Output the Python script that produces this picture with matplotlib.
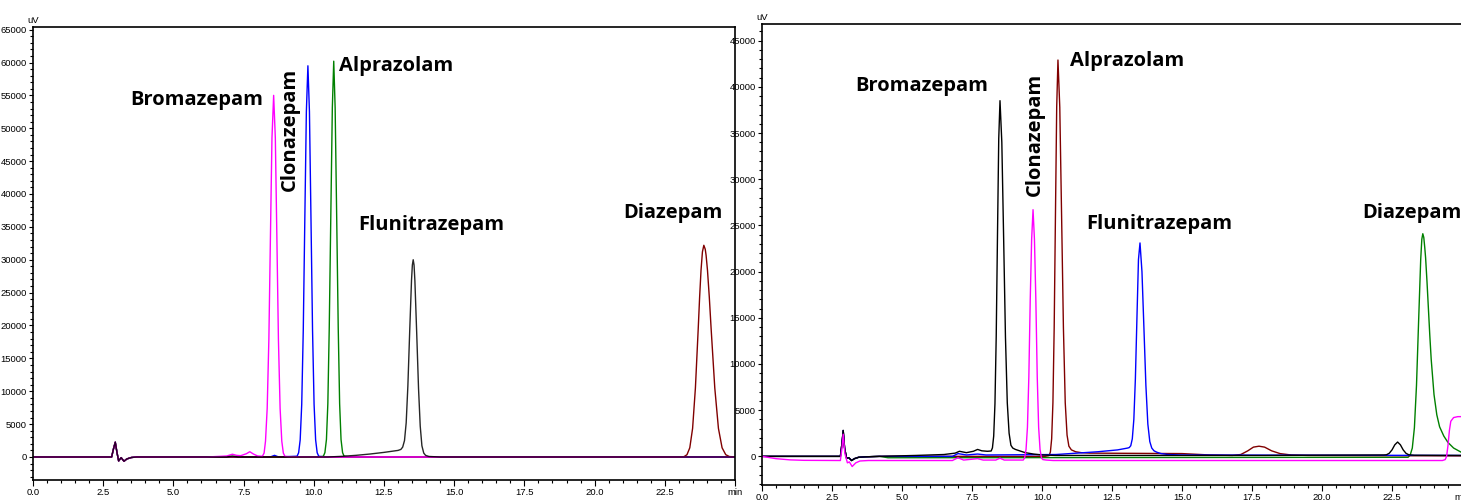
import numpy as np
import matplotlib.pyplot as plt
from matplotlib.ticker import MultipleLocator, FixedLocator, FixedFormatter

# ---- left run: retention time (min) / signal (uV) ----
L_dist_t = [0.0, 2.80, 2.87, 2.93, 2.99, 3.05, 3.14, 3.24, 3.34, 3.50, 3.70]
L_dist_y = [0, 0, 1300, 2250, 700, -600, -100, -650, -300, -80, 0]

L_brom_t = [6.2, 6.9, 7.1, 7.25, 7.4, 7.6, 7.72, 7.85, 8.0,
            8.17, 8.23, 8.28, 8.34, 8.40, 8.455, 8.51, 8.57, 8.63, 8.685, 8.74, 8.80, 8.86, 8.915, 8.97,
            9.1, 10.0, 25.0]
L_brom_y = [0, 150, 420, 250, 200, 500, 800, 450, 150,
            110, 600, 2400, 7400, 17900, 33400, 48500, 55000, 48500, 33400, 17900, 7400, 2400, 600, 110,
            50, 0, 0]

L_clon_t = [8.45, 8.6, 8.75,
            9.405, 9.46, 9.515, 9.57, 9.625, 9.68, 9.735, 9.79, 9.845, 9.90, 9.955, 10.01, 10.065, 10.12, 10.175,
            10.4, 25.0]
L_clon_y = [0, 250, 0,
            120, 650, 2600, 8000, 19300, 36100, 52500, 59500, 52500, 36100, 19300, 8000, 2600, 650, 120,
            0, 0]

L_alpr_t = [10.2,
            10.34, 10.395, 10.45, 10.50, 10.55, 10.605, 10.66, 10.71, 10.76, 10.815, 10.87, 10.92, 10.97, 11.025, 11.08,
            11.3, 25.0]
L_alpr_y = [0,
            120, 660, 2650, 8100, 19600, 36500, 53100, 60200, 53100, 36500, 19600, 8100, 2650, 660, 120,
            0, 0]

L_flun_t = [6.9, 7.1, 7.3, 10.5, 11.0, 11.5, 12.0, 12.5, 13.0,
            13.10, 13.165, 13.23, 13.29, 13.35, 13.415, 13.48, 13.51, 13.54, 13.57, 13.60, 13.665, 13.73, 13.79,
            13.85, 13.915, 13.98, 14.1, 14.5, 25.0]
L_flun_y = [0, 150, 0, 0, 100, 250, 450, 700, 1000,
            1150, 1500, 2500, 5200, 10800, 19100, 26900, 29200, 30000, 29200, 26800, 18800, 10400, 4700,
            1700, 600, 250, 80, 0, 0]

L_diaz_t = [23.1,
            23.19, 23.29, 23.39, 23.49, 23.59, 23.69, 23.74, 23.79, 23.84, 23.89, 23.94, 23.97, 24.02, 24.085,
            24.15, 24.28, 24.41, 24.54, 24.67, 24.80, 25.0]
L_diaz_y = [0,
            65, 350, 1400, 4350, 10500, 19500, 24300, 28400, 31200, 32200, 31600, 30700, 28400, 24300,
            19500, 10500, 4350, 1400, 350, 65, 20]

# ---- right run ----
R_dist_t = [0.0, 2.80, 2.86, 2.90, 2.95, 3.02, 3.10, 3.20, 3.30, 3.45, 3.70, 4.20]
R_dist_y = [0, 0, 1500, 2800, 900, -200, -150, -450, -250, -100, -50, 0]

R_brom_t = [5.5, 6.5, 6.9, 7.05, 7.3, 7.55, 7.7, 7.85, 8.05,
            8.185, 8.23, 8.275, 8.32, 8.365, 8.41, 8.455, 8.50,
            8.565, 8.63, 8.695, 8.76, 8.825, 8.89, 8.955, 9.05, 9.2, 9.4, 9.7, 10.0, 10.5,
            18.0, 22.2, 22.3, 22.4, 22.5, 22.6, 22.7, 22.8, 22.9, 23.0, 23.1, 23.3, 25.0]
R_brom_y = [100, 200, 350, 550, 400, 550, 750, 600, 550,
            580, 920, 2200, 5700, 13000, 23900, 34400, 38500,
            34000, 23600, 12900, 5800, 2500, 1200, 900, 750, 600, 400, 250, 150, 100,
            100, 150, 170, 330, 700, 1250, 1550, 1250, 700, 330, 170, 120, 100]

R_clon_t = [0.0, 0.5, 1.0, 1.5, 2.8, 2.86, 2.9, 2.96, 3.05, 3.12, 3.22, 3.35, 3.5, 3.8,
            6.8, 7.0, 7.2, 7.7, 7.9, 8.35, 8.5, 8.65,
            9.33, 9.38, 9.43, 9.48, 9.53, 9.58, 9.63, 9.68, 9.73, 9.78, 9.83, 9.88, 9.93, 9.98, 10.03, 10.15, 10.4,
            24.3, 24.4, 24.45, 24.5, 24.55, 24.6, 24.7, 24.85, 25.0]
R_clon_y = [0, -250, -380, -430, -450, 1000, 2400, 300, -700, -600, -1100, -700, -500, -450,
            -450, -150, -400, -250, -400, -400, -200, -400,
            -400, -150, 750, 3150, 8600, 17000, 23500, 26700, 23500, 17000, 8600, 3150, 750, -150, -350, -400, -450,
            -450, -350, 0, 1200, 2800, 3800, 4200, 4300, 4300]

R_alpr_t = [10.1,
            10.255, 10.30, 10.345, 10.39, 10.435, 10.48, 10.525, 10.57,
            10.635, 10.70, 10.765, 10.83, 10.895, 10.96, 11.05, 11.2, 11.4, 11.7,
            15.0, 16.0, 16.8, 17.1, 17.35, 17.55, 17.75, 17.95, 18.2, 18.5, 18.9, 19.5, 25.0]
R_alpr_y = [0,
            80, 480, 1900, 5800, 13900, 26000, 37800, 42900,
            37800, 26000, 13900, 5800, 2300, 1100, 700, 500, 400, 350,
            300, 150, 100, 200, 600, 1000, 1100, 1000, 600, 300, 150, 100, 50]

R_flun_t = [6.8, 7.0, 7.3, 7.7, 8.0, 10.5, 11.0, 12.0, 12.7, 13.06,
            13.115, 13.17, 13.225, 13.28, 13.335, 13.39, 13.445, 13.5,
            13.57, 13.64, 13.71, 13.78, 13.85, 13.92, 14.0, 14.1, 14.25, 14.5, 15.0, 25.0]
R_flun_y = [0, 300, 150, 250, 150, 200, 300, 500, 700, 900,
            950, 1150, 1900, 4000, 8400, 14900, 21300, 23100,
            20000, 13900, 7700, 3500, 1600, 900, 600, 450, 300, 200, 150, 100]

R_diaz_t = [4.5, 23.0,
            23.075, 23.15, 23.225, 23.3, 23.375, 23.45, 23.525, 23.565, 23.6, 23.635,
            23.67, 23.7, 23.75, 23.8, 23.85, 23.9, 24.0, 24.1, 24.2, 24.35, 24.5, 24.7, 25.0]
R_diaz_y = [-150, -100,
            -100, 150, 900, 3100, 7700, 14600, 21300, 23500, 24100, 23700,
            22600, 21500, 18900, 16000, 13100, 10500, 6700, 4500, 3200, 2200, 1500, 900, 400]

names = ['Bromazepam', 'Clonazepam', 'Alprazolam', 'Flunitrazepam', 'Diazepam']
# label anchors (min, uV)
L_lab_x = [5.82, 9.14, 12.93, 14.18, 22.8]
L_lab_y = [54300, 49800, 59400, 35300, 37100]
R_lab_x = [5.71, 9.75, 13.05, 14.2, 23.2]
R_lab_y = [40100, 34800, 42800, 25200, 26300]

MAG, BLU, GRN, RED, BLK = '#ff00ff', '#0000ff', '#008000', '#800000', '#000000'

plt.rcParams['font.family'] = ['Liberation Sans', 'DejaVu Sans']

fig = plt.figure(figsize=(14.61, 5.01), dpi=100)
axL = fig.add_axes([33 / 1461, 21 / 501, 702 / 1461, 453 / 501])
axR = fig.add_axes([762 / 1461, 16 / 501, 700 / 1461, 461 / 501])


def trace(dist_t, dist_y, t, y):
    return np.array(dist_t + t), np.array(dist_y + y)


# left: order so the black baseline blends over magenta
for t, y, c, a in [(L_alpr_t, L_alpr_y, GRN, 1), (L_clon_t, L_clon_y, BLU, 1),
                   (L_diaz_t, L_diaz_y, RED, 1), (L_brom_t, L_brom_y, MAG, 1),
                   (L_flun_t, L_flun_y, BLK, 0.85)]:
    xx, yy = trace(L_dist_t, L_dist_y, t, y)
    axL.plot(xx, yy, color=c, lw=1.0, alpha=a)

for t, y, c in [(R_diaz_t, R_diaz_y, GRN), (R_alpr_t, R_alpr_y, RED),
                (R_flun_t, R_flun_y, BLU), (R_brom_t, R_brom_y, BLK)]:
    xx, yy = trace(R_dist_t, R_dist_y, t, y)
    axR.plot(xx, yy, color=c, lw=1.0)
axR.plot(R_clon_t, R_clon_y, color=MAG, lw=1.0)

axL.set_ylim(-3500, 65400)
axR.set_ylim(-3100, 46800)

xmaj = list(np.arange(0, 25.01, 2.5))
xlab = ['%.1f' % v for v in xmaj[:-1]] + ['min']
for ax in (axL, axR):
    ax.set_xlim(0, 25)
    ax.xaxis.set_major_locator(FixedLocator(xmaj))
    ax.xaxis.set_major_formatter(FixedFormatter(xlab))
    ax.xaxis.set_minor_locator(MultipleLocator(0.5))
    ax.yaxis.set_major_locator(MultipleLocator(5000))
    ax.yaxis.set_minor_locator(MultipleLocator(1000))
    ax.tick_params(axis='both', which='both', direction='out', labelsize=6.8, width=0.8, pad=1.5)
    ax.tick_params(axis='x', which='major', length=4.5)
    ax.tick_params(axis='x', which='minor', length=2.5)
    ax.tick_params(axis='y', which='major', length=3)
    ax.tick_params(axis='y', which='minor', length=2.5)
    for s in ax.spines.values():
        s.set_linewidth(1.2)
    ax.text(0, 1.004, 'uV', transform=ax.transAxes, ha='center', va='bottom', fontsize=6.8)

for ax, lx, ly in [(axL, L_lab_x, L_lab_y), (axR, R_lab_x, R_lab_y)]:
    for i, nm in enumerate(names):
        ax.text(lx[i], ly[i], nm, ha='center', va='center', fontsize=14.5, fontweight='bold',
                family=['Open Sans', 'DejaVu Sans'], rotation=90 if nm == 'Clonazepam' else 0)

fig.savefig('out.png', dpi=100)
